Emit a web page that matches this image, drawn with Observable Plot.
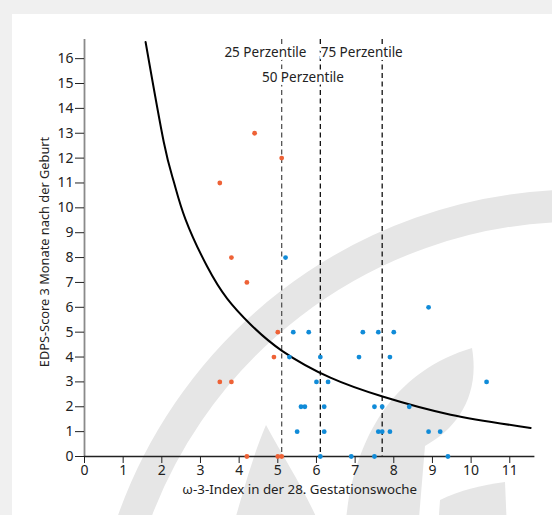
<!DOCTYPE html>
<html>
<head>
<meta charset="utf-8">
<script src="https://cdn.jsdelivr.net/npm/d3@7"></script>
<script src="https://cdn.jsdelivr.net/npm/@observablehq/plot@0.6"></script>
<style>
  html, body { margin: 0; padding: 0; }
  body { width: 552px; height: 515px; background: #f0f0f0; position: relative; overflow: hidden; font-family: "Noto Sans", sans-serif; }
  #panel { position: absolute; left: 12px; top: 14px; right: 0; bottom: 0; background: #ffffff; }
  #wm { position: absolute; left: 0; top: 0; }
  #chart { position: absolute; left: 0; top: 0; }
</style>
</head>
<body>
<div id="panel"></div>
<svg id="wm" width="552" height="515" viewBox="0 0 552 515">
  <g fill="#e6e6e6" stroke="none">
    <path d="M126.7,540 A473,473 0 0 1 560,206" fill="none" stroke="#e6e6e6" stroke-width="32"/>
    <path d="M232,530 C245,485 255,450 266,425 C285,460 305,490 322,530 Z"/>
    <path d="M345,530 C352,440 392,372 472,348 C480,395 458,428 425,446 L418,530 Z"/>
    <path d="M438,530 L440,500 C460,490 482,485 505,482 L507,530 Z"/>
  </g>
</svg>
<div id="chart"></div>
<script>
// Tick values
const xTicks = [0, 1, 2, 3, 4, 5, 6, 7, 8, 9, 10, 11];
const yTicks = [0, 1, 2, 3, 4, 5, 6, 7, 8, 9, 10, 11, 12, 13, 14, 15, 16];

// Orange-red group (omega-3 index, EDPS score)
const redX = [4.4, 5.1, 3.5, 3.8, 4.2, 5.0, 4.9, 3.5, 3.8, 4.2, 5.0, 5.1];
const redY = [13, 12, 11, 8, 7, 5, 4, 3, 3, 0, 0, 0];

// Blue group
const blueX = [5.2, 8.9, 5.4, 5.8, 7.2, 7.6, 8.0, 5.3, 6.1, 7.1, 7.9, 6.0, 6.3, 10.4,
               5.6, 5.7, 6.2, 7.5, 7.7, 8.4, 5.5, 6.2, 7.6, 7.7, 7.9, 8.9, 9.2,
               6.1, 6.9, 7.5, 9.4];
const blueY = [8, 6, 5, 5, 5, 5, 5, 4, 4, 4, 4, 3, 3, 3,
               2, 2, 2, 2, 2, 2, 1, 1, 1, 1, 1, 1, 1,
               0, 0, 0, 0];

// Fitted curve
const curveX = [1.58, 2.05, 2.31, 2.61, 3.17, 3.69, 4.29, 5.11, 6.36, 7.73, 9.47, 11.54];
const curveY = [16.67, 12.65, 11.05, 9.55, 7.65, 6.35, 5.32, 4.25, 3.17, 2.40, 1.68, 1.15];

// Percentile lines and labels
const percentileX = [5.1, 6.1, 7.7];
const percentileStroke = ["#555555", "#111111", "#111111"];
const labelText = ["25 Perzentile", "50 Perzentile", "75 Perzentile"];
const labelX = [4.68, 5.65, 7.17];
const labelY = [16.25, 15.25, 16.25];

const xTitle = "ω-3-Index in der 28. Gestationswoche";
const yTitle = "EDPS-Score 3 Monate nach der Geburt";

const red = redX.map((x, i) => ({x, y: redY[i]}));
const blue = blueX.map((x, i) => ({x, y: blueY[i]}));
const curve = curveX.map((x, i) => ({x, y: curveY[i]}));
const percentiles = percentileX.map((x, i) => ({x, stroke: percentileStroke[i]}));
const labels = labelText.map((t, i) => ({t, x: labelX[i], y: labelY[i]}));

const chart = Plot.plot({
  width: 552,
  height: 515,
  marginLeft: 84,
  marginRight: 17.6,
  marginTop: 39,
  marginBottom: 59,
  x: {domain: [0, 11.65]},
  y: {domain: [0, 16.77]},
  style: {background: "transparent", fontFamily: "Noto Sans", fontSize: "14px", color: "#222"},
  marks: [
    Plot.ruleX([0], {stroke: "#8a8a8a", strokeWidth: 1.8}),
    Plot.axisY({ticks: yTicks, tickSize: 9, tickPadding: 2, label: null, fontSize: 14, stroke: "#222"}),
    Plot.axisX({ticks: xTicks, tickSize: 7, tickPadding: 2, label: null, fontSize: 14, stroke: "#222"}),
    Plot.ruleX(percentiles, {x: "x", stroke: "stroke", strokeWidth: 1.3, strokeDasharray: "5,3.5"}),
    Plot.ruleY([0], {stroke: "#222", strokeWidth: 1.6}),
    Plot.text(labels, {x: "x", y: "y", text: "t", fontSize: 13.5, fill: "#222", stroke: "white", strokeWidth: 6}),
    Plot.line(curve, {x: "x", y: "y", curve: "natural", stroke: "#000", strokeWidth: 2}),
    Plot.dot(red, {x: "x", y: "y", r: 2.4, fill: "#ee6236", stroke: "none"}),
    Plot.dot(blue, {x: "x", y: "y", r: 2.4, fill: "#108bd8", stroke: "none"}),
    Plot.text([yTitle], {frameAnchor: "left", textAnchor: "middle", dx: -40, dy: 4, rotate: -90, fontSize: 12.8, fill: "#222"}),
    Plot.text([xTitle], {frameAnchor: "bottom", dx: -10, dy: 37, fontSize: 13.3, fill: "#222"})
  ]
});
document.getElementById("chart").appendChild(chart);
</script>
</body>
</html>
